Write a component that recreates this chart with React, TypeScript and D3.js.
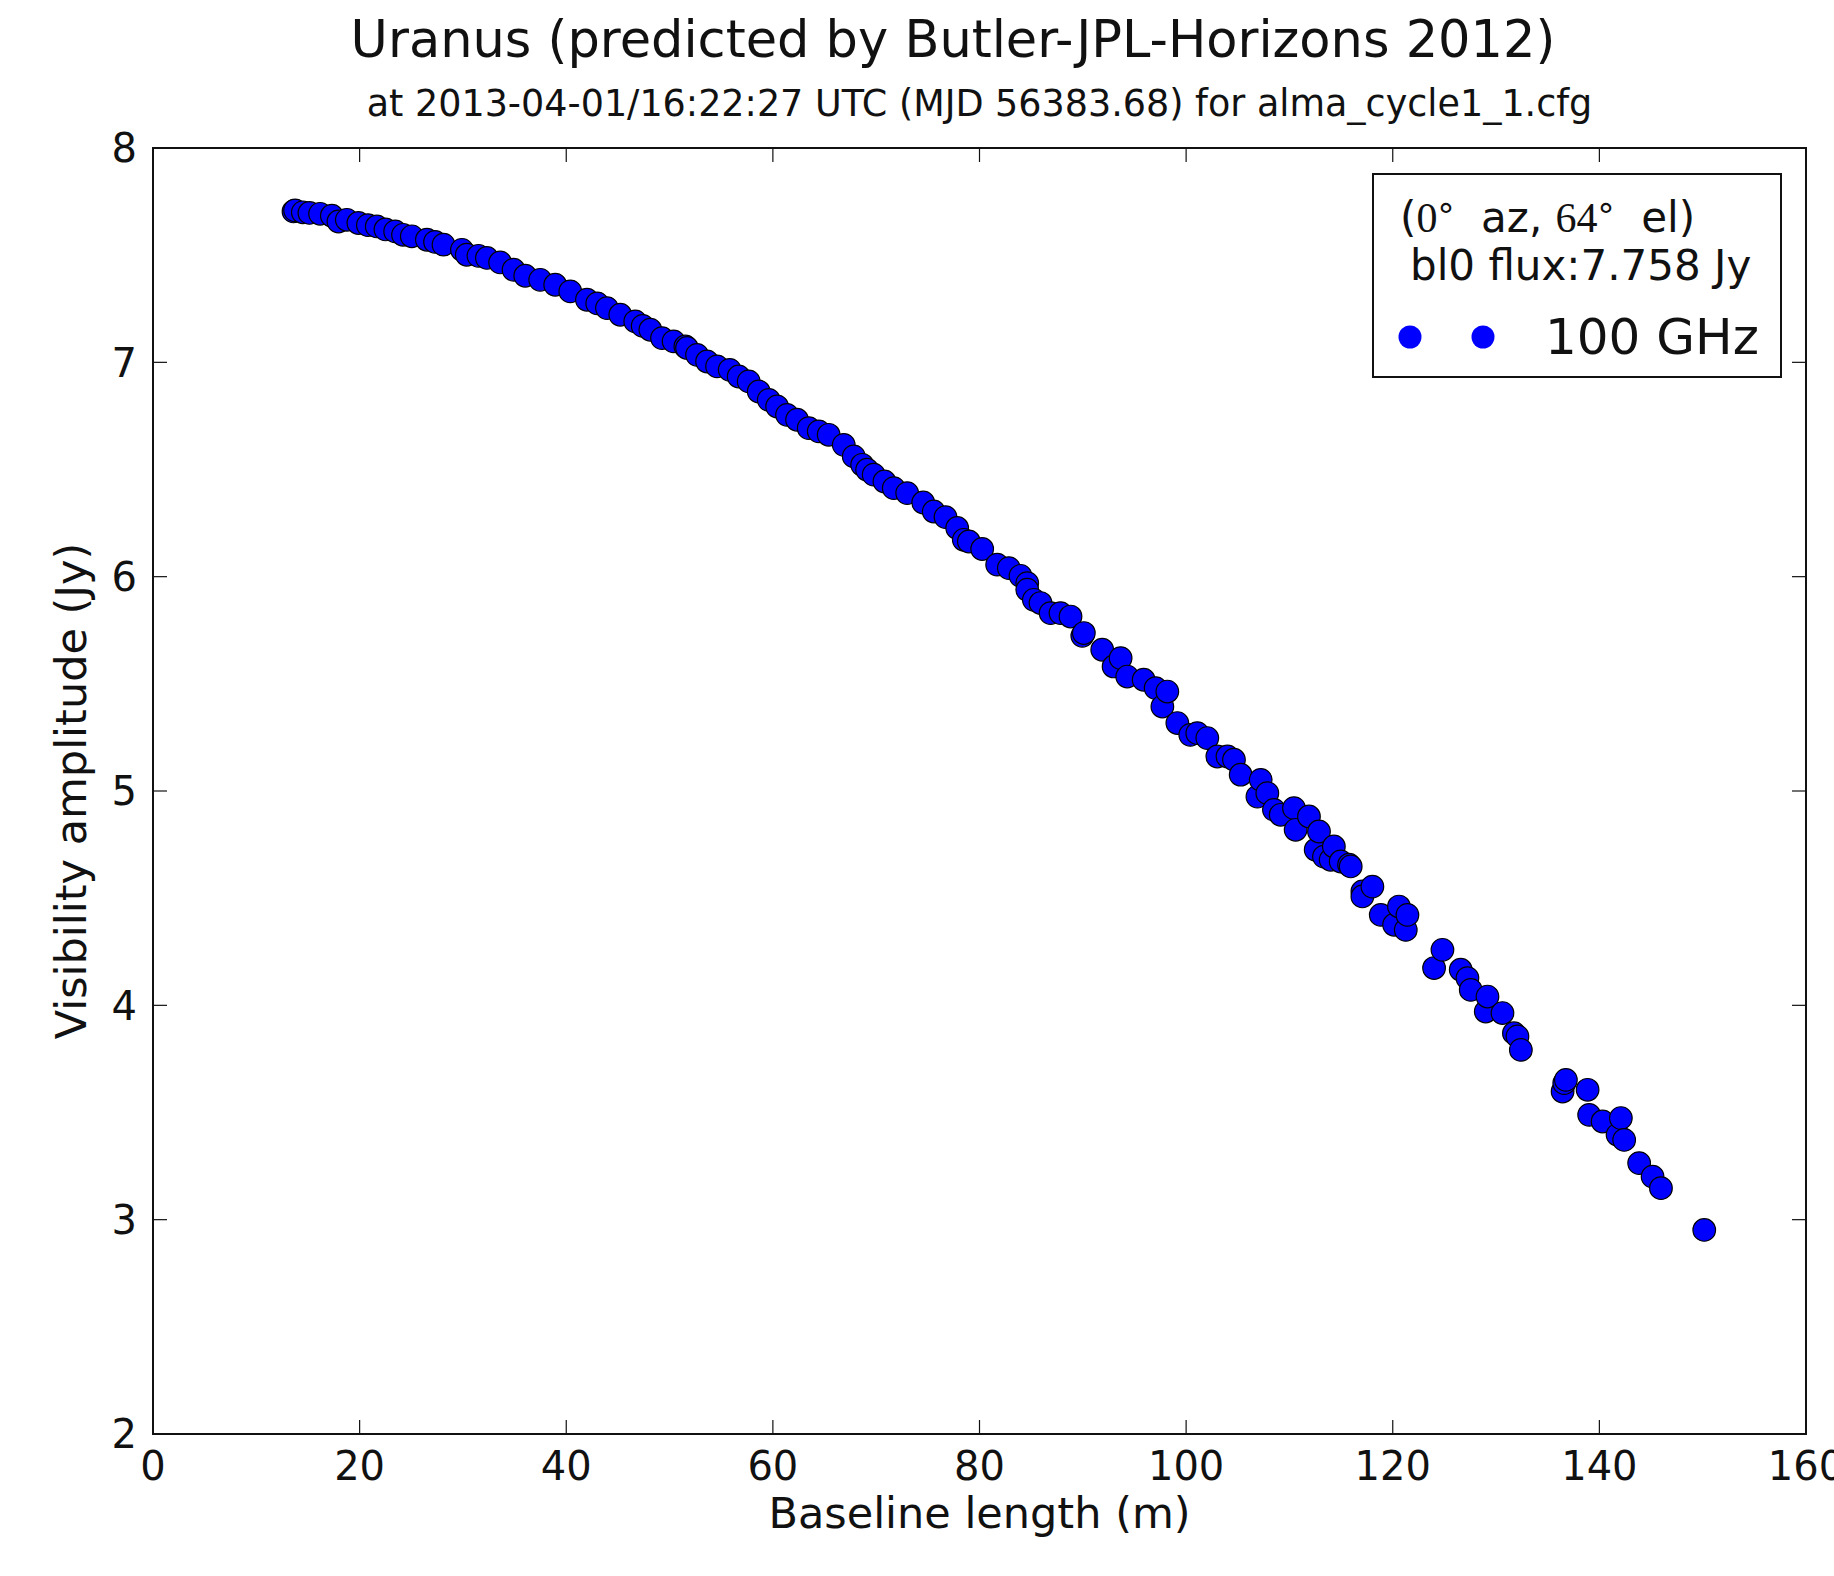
import * as d3 from "d3";

// visibility amplitude vs baseline
const baselineM = [
  13.6, 13.75, 14.5, 15.14, 16.17, 17.31, 17.95, 18.76, 19.88, 20.8, 21.66, 22.5, 23.44, 24.2, 25.05, 26.51, 27.3,
  28.12, 29.9, 30.37, 31.5, 32.32, 33.6, 34.9, 36.03, 37.48, 38.93, 40.39, 42.0, 43.0, 43.94, 45.23, 46.68, 47.4,
  48.14, 49.27, 50.39, 51.53, 51.69, 52.66, 53.63, 54.6, 55.82, 56.69, 57.66, 58.63, 59.6, 60.41, 61.37, 62.34,
  63.47, 64.44, 65.4, 66.86, 67.83, 68.64, 69.12, 69.76, 70.8, 71.7, 73.0, 74.55, 75.57, 76.71, 77.84, 78.48,
  78.97, 80.26, 81.71, 82.84, 83.97, 84.62, 84.62, 85.26, 85.91, 86.88, 87.84, 88.81, 89.95, 90.1, 91.88, 92.98,
  93.66, 94.3, 95.89, 97.05, 97.7, 98.18, 99.15, 100.4, 101.08, 102.05, 103.02, 104.0, 104.63, 105.28, 106.9,
  107.22, 107.86, 108.5, 109.15, 110.44, 110.6, 111.89, 112.54, 112.86, 113.34, 113.99, 114.3, 114.96, 115.77, 115.93,
  117.06, 117.06, 118.03, 118.84, 120.13, 120.6, 121.26, 121.42, 124.0, 124.81, 126.58, 127.23, 127.55, 129.0, 129.17,
  130.62, 131.73, 132.07, 132.4, 136.44, 136.6, 136.76, 138.86, 139.01, 140.31, 141.76, 142.08, 142.4, 143.85, 145.15,
  145.96, 150.15,
];
const amplitudeJy = [
  7.704, 7.709, 7.7, 7.697, 7.693, 7.684, 7.657, 7.665, 7.65, 7.64, 7.634, 7.62, 7.611, 7.595, 7.588, 7.572, 7.562,
  7.549, 7.525, 7.502, 7.497, 7.487, 7.466, 7.432, 7.404, 7.385, 7.362, 7.331, 7.292, 7.275, 7.253, 7.222, 7.191, 7.17,
  7.152, 7.113, 7.098, 7.074, 7.067, 7.035, 7.004, 6.981, 6.965, 6.934, 6.911, 6.864, 6.825, 6.794, 6.755, 6.732,
  6.693, 6.678, 6.662, 6.615, 6.561, 6.522, 6.499, 6.476, 6.444, 6.413, 6.39, 6.346, 6.304, 6.278, 6.227, 6.172,
  6.164, 6.129, 6.056, 6.04, 6.004, 5.97, 5.939, 5.892, 5.877, 5.83, 5.83, 5.814, 5.724, 5.737, 5.659, 5.581,
  5.62, 5.534, 5.519, 5.48, 5.394, 5.464, 5.317, 5.262, 5.27, 5.247, 5.161, 5.161, 5.146, 5.076, 4.974,
  5.052, 4.99, 4.912, 4.889, 4.92, 4.819, 4.881, 4.726, 4.811, 4.694, 4.679, 4.741, 4.671, 4.656, 4.648,
  4.531, 4.508, 4.554, 4.422, 4.376, 4.461, 4.352, 4.422, 4.174, 4.259, 4.166, 4.127, 4.072, 3.971, 4.041,
  3.964, 3.87, 3.855, 3.792, 3.598, 3.637, 3.652, 3.606, 3.489, 3.458, 3.396, 3.474, 3.372, 3.264, 3.201,
  3.147, 2.952,
];

const xTicks = [0, 20, 40, 60, 80, 100, 120, 140, 160];
const yTicks = [2, 3, 4, 5, 6, 7, 8];

const titleText = "Uranus (predicted by Butler-JPL-Horizons 2012)";
const subtitleText = "at 2013-04-01/16:22:27 UTC (MJD 56383.68) for alma_cycle1_1.cfg";
const xLabel = "Baseline length (m)";
const yLabel = "Visibility amplitude (Jy)";
const fluxText = "bl0 flux:7.758 Jy";
const seriesName = "100 GHz";

const W = 1834;
const H = 1576;
const box = { left: 153, right: 1806, top: 148, bottom: 1434 };
const sans = "'DejaVu Sans', sans-serif";
const serif = "'Liberation Serif', serif";
const ink = "#111";

const App = () => {
  const x = d3.scaleLinear().domain([0, 160]).range([box.left, box.right]);
  const y = d3.scaleLinear().domain([2, 8]).range([box.bottom, box.top]);
  const pts = baselineM.map((b, i) => [b, amplitudeJy[i]]);
  const tickLen = 14;

  return (
    <svg
      width={W}
      height={H}
      style={{ position: "absolute", left: 0, top: 0, background: "#fff" }}
      fontFamily={sans}
    >
      <rect width={W} height={H} fill="#fff" />
      <text x={953} y={57} fontSize={51} textAnchor="middle" fill={ink}>
        {titleText}
      </text>
      <text x={979.5} y={116} fontSize={36.5} textAnchor="middle" fill={ink}>
        {subtitleText}
      </text>

      {/* points */}
      <g>
        {pts.map((d, i) => (
          <circle key={i} cx={x(d[0])} cy={y(d[1])} r={11.3} fill="#0000ff" stroke="#000" strokeWidth={1.2} />
        ))}
      </g>

      {/* ticks, all four sides, pointing in */}
      <g stroke={ink} strokeWidth={1.2}>
        {xTicks.map((t) => (
          <g key={"x" + t}>
            <line x1={x(t)} x2={x(t)} y1={box.bottom} y2={box.bottom - tickLen} />
            <line x1={x(t)} x2={x(t)} y1={box.top} y2={box.top + tickLen} />
          </g>
        ))}
        {yTicks.map((t) => (
          <g key={"y" + t}>
            <line x1={box.left} x2={box.left + tickLen} y1={y(t)} y2={y(t)} />
            <line x1={box.right} x2={box.right - tickLen} y1={y(t)} y2={y(t)} />
          </g>
        ))}
      </g>
      <rect
        x={box.left}
        y={box.top}
        width={box.right - box.left}
        height={box.bottom - box.top}
        fill="none"
        stroke={ink}
        strokeWidth={2}
      />

      {/* tick labels */}
      <g fontSize={40} fill={ink}>
        {xTicks.map((t) => (
          <text key={"xl" + t} x={x(t)} y={box.bottom + 46} textAnchor="middle">
            {t}
          </text>
        ))}
        {yTicks.map((t) => (
          <text key={"yl" + t} x={box.left - 16} y={y(t)} dy="0.36em" textAnchor="end">
            {t}
          </text>
        ))}
      </g>

      <text x={(box.left + box.right) / 2} y={1528} fontSize={43} textAnchor="middle" fill={ink}>
        {xLabel}
      </text>
      <text
        transform={`translate(86, ${(box.top + box.bottom) / 2}) rotate(-90)`}
        fontSize={43}
        textAnchor="middle"
        fill={ink}
      >
        {yLabel}
      </text>

      {/* legend */}
      <g>
        <rect x={1373} y={174} width={408} height={203} fill="#fff" stroke={ink} strokeWidth={2} />
        <text x={1400} y={232} fontSize={42} fill={ink} style={{ whiteSpace: "pre" }}>
          <tspan>(</tspan>
          <tspan fontFamily={serif}>0</tspan>
          <tspan fontSize={34} dy={-4}>°</tspan>
          <tspan dy={4}>  az, </tspan>
          <tspan fontFamily={serif}>64</tspan>
          <tspan fontSize={34} dy={-4}>°</tspan>
          <tspan dy={4}>  el)</tspan>
        </text>
        <text x={1410} y={280} fontSize={42} fill={ink}>
          {fluxText}
        </text>
        <circle cx={1410} cy={337} r={11.5} fill="#0000ff" />
        <circle cx={1483} cy={337} r={11.5} fill="#0000ff" />
        <text x={1545} y={354} fontSize={50} fill={ink}>
          {seriesName}
        </text>
      </g>
    </svg>
  );
};

export default App;
